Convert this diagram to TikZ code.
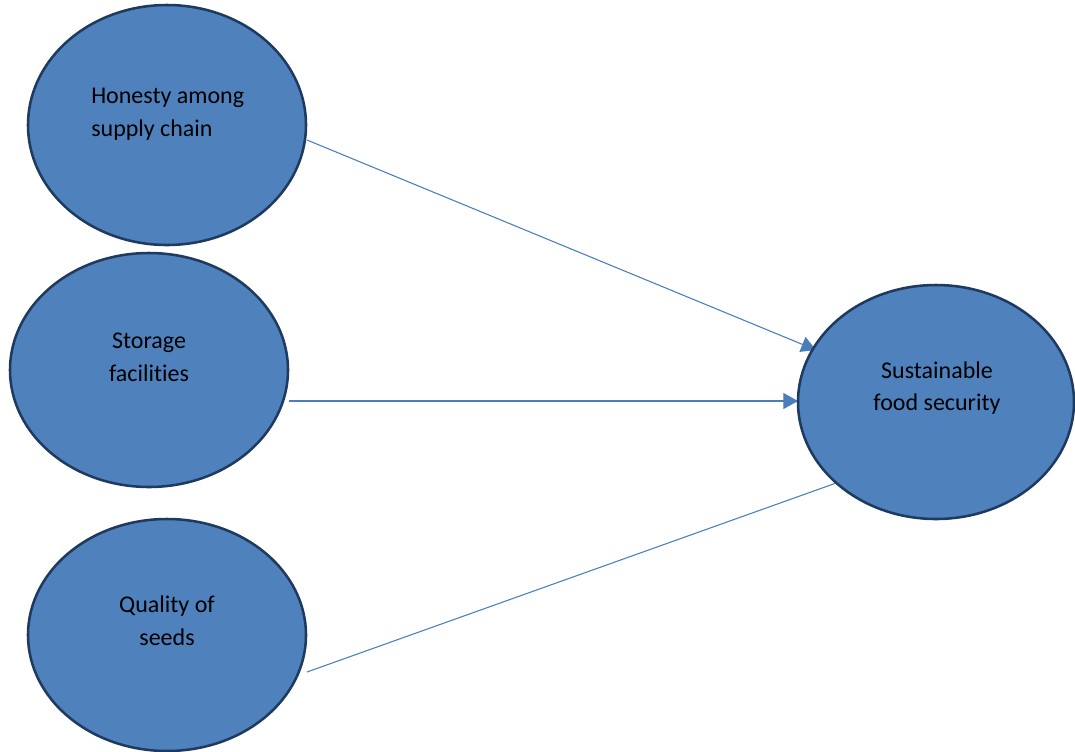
\documentclass[tikz,border=0pt]{standalone}
\usepackage{fontspec}
\setmainfont[Ligatures=NoCommon]{Carlito}
\usetikzlibrary{arrows.meta}
\definecolor{fillblue}{HTML}{4F81BD}
\definecolor{edgeblue}{HTML}{1F3A5F}
\definecolor{lineblue}{HTML}{4A7EBB}
\begin{document}
\begin{tikzpicture}[x=0.75pt,y=-0.75pt,
  bubble/.style={fill=fillblue,draw=edgeblue,line width=1.9pt},
  label/.style={inner sep=0pt,font=\fontsize{18}{24.5}\selectfont,text=black},
  conn/.style={draw=lineblue,line width=0.8pt,-{Triangle[length=11pt,width=12pt]}}]
\useasboundingbox (0,0) rectangle (1075,751);
% connectors (drawn behind the ellipses)
\coordinate (a1) at (307,140);
\coordinate (b1) at (816,350);
\coordinate (a2) at (289,401);
\coordinate (b2) at (798,401);
\coordinate (a3) at (307,672);
\coordinate (b3) at (853,477);
\draw[conn] (a1) -- (b1);
\draw[conn] (a2) -- (b2);
\draw[conn] (a3) -- (b3);
% ellipses
\path[bubble] (167,125) ellipse [x radius=139, y radius=120];
\path[bubble] (149,370) ellipse [x radius=139, y radius=117];
\path[bubble] (167,635) ellipse [x radius=139, y radius=116];
\path[bubble] (936,402) ellipse [x radius=138, y radius=117];
% texts
\node[label,align=left,anchor=west] (t1) at (91,114) {Honesty among\\supply chain};
\node[label,align=center] (t2) at (149,357) {Storage\\facilities};
\node[label,align=center] (t3) at (167,621) {Quality of\\seeds};
\node[label,align=center] (t4) at (937,388) {Sustainable\\food security};
\end{tikzpicture}
\end{document}
